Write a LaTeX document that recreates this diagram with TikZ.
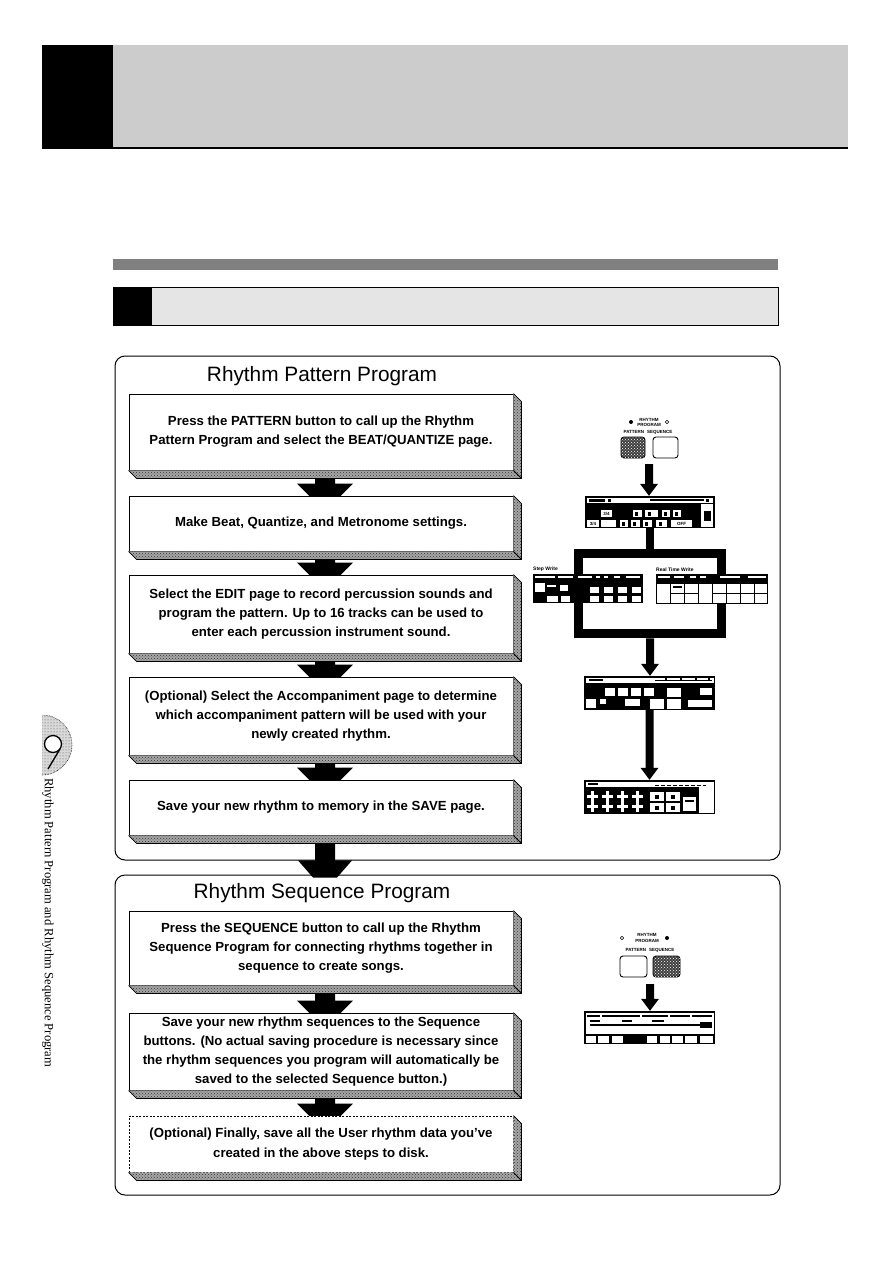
\documentclass[tikz,border=0pt]{standalone}
\usepackage{fontspec}
\setmainfont{Liberation Sans}
\newfontfamily\serifv{Liberation Serif}
\usetikzlibrary{calc,patterns}
\definecolor{hdrgray}{HTML}{CCCCCC}
\definecolor{bargray}{HTML}{808080}
\definecolor{secgray}{HTML}{E5E5E5}
\pgfdeclarelayer{back}\pgfdeclarelayer{bg}\pgfsetlayers{back,bg,main}
\newcommand{\boxshadow}[1]{%
  \fill[black!35] (#1.north east) -- ++(8,8) -- ($(#1.south east)+(8,8)$) -- ($(#1.south west)+(8,8)$) -- (#1.south west) -- (#1.south east) -- cycle;
  \fill[pattern=crosshatch dots, pattern color=black!80] (#1.north east) -- ++(8,8) -- ($(#1.south east)+(8,8)$) -- ($(#1.south west)+(8,8)$) -- (#1.south west) -- (#1.south east) -- cycle;
  \draw[line width=0.8pt] (#1.north east) -- ++(8,8) -- ($(#1.south east)+(8,8)$) -- ($(#1.south west)+(8,8)$) -- (#1.south west);
  \draw[line width=0.8pt] (#1.south east) -- ++(8,8);}
\newcommand{\blockarrow}[2]{%
  \begin{pgfonlayer}{bg}
  \fill let \p1=(#1.south), \p2=(#2.north) in
    (\x1-6pt,\y1-8pt) -- (\x1+14pt,\y1-8pt) -- (\x1+14pt,\y2+12pt) -- (\x1+32pt,\y2+12pt)
    -- (\x1+4pt,\y2-16pt) -- (\x1-24pt,\y2+12pt) -- (\x1-6pt,\y2+12pt) -- cycle;
  \end{pgfonlayer}}
\newcommand{\smallarrow}[2]{%
  \fill let \p1=(#1), \p2=(#2) in
    (\x1-4pt,\y1) -- (\x1+4pt,\y1) -- (\x1+4pt,\y2+12pt) -- (\x1+9pt,\y2+12pt)
    -- (\x1,\y2) -- (\x1-9pt,\y2+12pt) -- (\x1-4pt,\y2+12pt) -- cycle;}
\begin{document}
\begin{tikzpicture}[x=1pt,y=-1pt,
  stepbox/.style={draw, line width=0.9pt, fill=white, minimum width=384pt, inner sep=0pt,
    align=center, font=\bfseries\fontsize{13.2}{19.2}\selectfont},
  group/.style={draw, line width=1pt, rounded corners=10pt, inner sep=0pt},
  grouptitle/.style={inner sep=0pt, font=\fontsize{20.8}{20.8}\selectfont},
  tiny/.style={inner sep=0pt, font=\bfseries\fontsize{4.5}{4.5}\selectfont},
  screen/.style={fill=black, inner sep=0pt},
  btn/.style={draw, line width=0.9pt, rounded corners=3pt, inner sep=0pt, fill=white},
  btndark/.style={btn, fill=black!75, postaction={pattern=crosshatch dots, pattern color=white}},
  cell/.style={fill=white}]
\begin{pgfonlayer}{back}\fill[white] (0,0) rectangle (893,1263);\end{pgfonlayer}
\useasboundingbox (0,0) rectangle (893,1263);

% header
\fill[hdrgray] (113,45) rectangle (848,147);
\fill[black] (42,45) rectangle (113,148);
\draw[line width=2pt] (42,148) -- (848,148);
\fill[bargray] (113,259) rectangle (778,270);
\draw[line width=1pt, fill=secgray] (113,287) rectangle (778,325);
\fill (113,287) rectangle (152,325);

% side tab
\fill[black!15] (42,775) arc[start angle=90, end angle=-90, radius=30] -- cycle;
\fill[pattern=dots, pattern color=black!70] (42,775) arc[start angle=90, end angle=-90, radius=30] -- cycle;
\draw[line width=0.6pt, densely dotted] (42,775) arc[start angle=90, end angle=-90, radius=30];
\draw[line width=1.3pt, fill=white] (53,744) circle (8.5);
\draw[line width=1.3pt] (60,749) -- (48,769);
\node[rotate=-90, anchor=west, inner sep=0pt, font=\serifv\fontsize{12.6}{12.6}\selectfont] (side) at (48,778)
  {Rhythm Pattern Program and Rhythm Sequence Program};

% groups
\node[group, minimum width=665pt, minimum height=504pt] (grpA) at (447.5,608) {};
\node[group, minimum width=665pt, minimum height=320pt] (grpB) at (447.5,1035) {};
\node[grouptitle] (titA) at (322,376) {Rhythm Pattern Program};
\node[grouptitle] (titB) at (322,893) {Rhythm Sequence Program};

% steps
\node[stepbox, minimum height=76pt] (s1) at (321,432) {Press the PATTERN button to call up the Rhythm\\Pattern Program and select the BEAT/QUANTIZE page.};
\node[stepbox, minimum height=55pt] (s2) at (321,523.5) {Make Beat, Quantize, and Metronome settings.};
\node[stepbox, minimum height=78pt] (s3) at (321,614) {Select the EDIT page to record percussion sounds and\\program the pattern. Up to 16 tracks can be used to\\enter each percussion instrument sound.};
\node[stepbox, minimum height=78pt] (s4) at (321,716) {(Optional) Select the Accompaniment page to determine\\which accompaniment pattern will be used with your\\newly created rhythm.};
\node[stepbox, minimum height=55pt] (s5) at (321,807.5) {Save your new rhythm to memory in the SAVE page.};
\node[stepbox, minimum height=74pt] (s6) at (321,948) {Press the SEQUENCE button to call up the Rhythm\\Sequence Program for connecting rhythms together in\\sequence to create songs.};
\node[stepbox, minimum height=77pt] (s7) at (321,1051.5) {Save your new rhythm sequences to the Sequence\\buttons. (No actual saving procedure is necessary since\\the rhythm sequences you program will automatically be\\saved to the selected Sequence button.)};
\node[stepbox, minimum height=56pt, dash pattern=on 2pt off 1.5pt] (s8) at (321,1144) {(Optional) Finally, save all the User rhythm data you've\\created in the above steps to disk.};
\foreach \n in {s1,s2,s3,s4,s5,s6,s7,s8} {\boxshadow{\n}}

\blockarrow{s1}{s2}
\blockarrow{s2}{s3}
\blockarrow{s3}{s4}
\blockarrow{s4}{s5}
\blockarrow{s6}{s7}
\blockarrow{s7}{s8}
\fill let \p1=(s5.south), \p2=(grpB.north) in
  (\x1-6pt,\y1-8pt) -- (\x1+14pt,\y1-8pt) -- (\x1+14pt,\y1-25pt) -- (\x1+31pt,\y1-25pt)
  -- (\x1+16pt,\y2-3pt) -- (\x1-8pt,\y2-3pt) -- (\x1-23pt,\y1-25pt) -- (\x1-6pt,\y1-25pt) -- cycle;

% ---------- right side, pattern program ----------
\fill (631,422) circle (2);
\draw[line width=0.6pt] (667,422) circle (1.8);
\node[tiny] (rpA) at (649,419.5) {RHYTHM};
\node[tiny] (pgA) at (649,425) {PROGRAM};
\node[tiny] (psA) at (648,432.5) {PATTERN\hspace{3pt}SEQUENCE};
\node[btndark, minimum width=24pt, minimum height=21pt] (patA) at (633,447.5) {};
\node[btn, minimum width=25pt, minimum height=21pt] (seqA) at (665.5,447.5) {};
\coordinate (a1top) at (649,464);

\node[screen, minimum width=130pt, minimum height=32pt] (scr1) at (650,512) {};
\smallarrow{a1top}{scr1.north}
\fill[white] (587,498) rectangle (713,503);
\fill (589,499) rectangle (605,501.5);
\fill (608,499) rectangle (611,502);
\draw[line width=1.6pt] (650,500.2) -- (704,500.2);
\fill (706,498.5) rectangle (709,502);
\fill[white] (701,504) rectangle (713,526.5);
\fill (703.5,511) rectangle (711,521);
\foreach \a/\b in {601/612,633/642,645/658,662/670,673/681} {\fill[white] (\a,510) rectangle (\b,517);}
\foreach \a/\b in {587/599,601/616,620/628,631/640,643/652,656/667,671/692} {\fill[white] (\a,520) rectangle (\b,527);}
\node[inner sep=0pt, font=\bfseries\fontsize{4.5}{4.5}\selectfont] (b34) at (606.5,513.5) {3/4};
\node[inner sep=0pt, font=\bfseries\fontsize{4.5}{4.5}\selectfont] (c34) at (593,523.5) {3/4};
\node[inner sep=0pt, font=\bfseries\fontsize{4.5}{4.5}\selectfont] (off) at (681.5,523.5) {OFF};
\foreach \a in {622,633,645,659} {\fill (\a,521.5) rectangle ++(3,4);}
\foreach \a in {635,648,664,675} {\fill (\a,512) rectangle ++(3,4);}

\node[draw, line width=9pt, minimum width=143pt, minimum height=80.5pt, inner sep=0pt] (frame) at (650,593.5) {};
\draw[line width=8pt] (scr1.south) -- (frame.north);

% step write screen
\node[anchor=west, inner sep=0pt, font=\bfseries\fontsize{5}{5}\selectfont] (swt) at (533,569.5) {Step Write};
\node[screen, minimum width=110pt, minimum height=29pt] (stepscr) at (588,588.5) {};
\foreach \a/\b in {535/555,558/573,578/592,596/600,604/608,614/620,626/640} {\fill[white] (\a,576) rectangle (\b,578);}
\fill[white] (535,583) rectangle (545,592);
\fill[white] (547,585) rectangle (556,587);
\fill[white] (560,585) rectangle (568,591);
\foreach \a in {590,604,618,632} {\fill[white] (\a,587) rectangle ++(9,6); \fill[white] (\a,596) rectangle ++(9,5.5);}
\fill[white] (547,596) rectangle (558,601.5);
\fill[white] (561,596) rectangle (570,601.5);
% real time write screen
\node[anchor=west, inner sep=0pt, font=\bfseries\fontsize{5}{5}\selectfont] (rtw) at (656,569.5) {Real Time Write};
\node[screen, minimum width=112pt, minimum height=9pt] (rtscr) at (712,578.5) {};
\foreach \a/\b in {658/670,674/684,690/696,700/706,720/740,748/766} {\fill[white] (\a,576) rectangle (\b,578);}
\draw[line width=1pt, fill=white] (656.5,583) rectangle (767.5,603);
\foreach \x in {670,684,698,712,726,740,754} {\draw[line width=1pt] (\x,583) -- (\x,603);}
\draw[line width=1pt] (670,593.5) -- (698,593.5);
\draw[line width=1pt] (712,593.5) -- (767.5,593.5);
\fill (673,586) rectangle (682,588);

% accompaniment screen
\node[screen, minimum width=131pt, minimum height=34pt] (scr3) at (649.5,693) {};
\smallarrow{frame.south}{scr3.north}
\fill[white] (585.5,677.5) rectangle (713.5,683);
\fill (589,679) rectangle (603,681);
\draw[line width=1pt] (655,680) -- (712,680);
\foreach \a in {665,680,695,708} {\fill (\a,678) rectangle ++(1.5,3);}
\foreach \a/\b in {605/615,618/628,631/641,644/654} {\fill[white] (\a,688) rectangle (\b,696);}
\fill[white] (667,688) rectangle (681,697);
\fill[white] (700,688) rectangle (712,695);
\fill[white] (586,699) rectangle (596,708);
\fill[white] (600,699) rectangle (606,704);
\fill[white] (625,699) rectangle (640,706);
\fill[white] (650,699) rectangle (664,708.5);
\fill[white] (667,699) rectangle (681,708.5);
\fill[white] (688,700) rectangle (712,707);

% save screen
\node[screen, minimum width=131pt, minimum height=34pt] (scr4) at (649.5,797) {};
\smallarrow{scr3.south}{scr4.north}
\fill[white] (585.5,781.5) rectangle (713.5,787);
\fill (588,783) rectangle (598,785);
\draw[line width=1pt, dash pattern=on 4pt off 2pt] (655,785) -- (706,785);
\fill[white] (699,787) rectangle (713.5,812.5);
\foreach \a in {586,601,616,631} {
  \fill[white] (\a+5,791) rectangle ++(3,21);
  \fill[white] (\a+1,795) rectangle ++(11,3);
  \fill[white] (\a+1,805) rectangle ++(11,3);}
\foreach \a in {650,666} {\fill[white] (\a,792) rectangle ++(14,9); \fill[white] (\a,803) rectangle ++(14,9);
  \fill (\a+5,794.5) rectangle ++(4,4); \fill (\a+5,805.5) rectangle ++(4,4);}
\fill[white] (683,797) rectangle (696,811);
\fill (685,800) rectangle (694,801.5);

% ---------- right side, sequence program ----------
\draw[line width=0.6pt] (622,938) circle (1.8);
\fill (667,938) circle (2);
\node[tiny] (rpB) at (647,935) {RHYTHM};
\node[tiny] (pgB) at (647,941) {PROGRAM};
\node[tiny] (psB) at (650,950.5) {PATTERN\hspace{3pt}SEQUENCE};
\node[btn, minimum width=27pt, minimum height=21pt] (patB) at (633.5,966.5) {};
\node[btndark, minimum width=27pt, minimum height=21pt] (seqB) at (666.5,966.5) {};
\coordinate (a2top) at (650,984);
\node[screen, minimum width=131pt, minimum height=33pt] (scr5) at (649.5,1027.5) {};
\smallarrow{a2top}{scr5.north}
\fill[white] (585.5,1012.5) rectangle (713.5,1034);
\draw[line width=1.5pt] (587,1016) -- (712,1016);
\foreach \a in {600,640,668,690} {\fill[white] (\a,1015) rectangle ++(2,2);}
\draw[line width=1.2pt] (590,1025) -- (700,1025);
\fill (700,1022) rectangle (712,1028);
\fill (590,1020) rectangle (600,1022);
\fill (622,1020) rectangle (632,1022);
\fill (652,1020) rectangle (664,1022);
\foreach \a/\b in {586/596,598/609,612/623,647/657,660/670,672/683,685/697,700/713} {\fill[white] (\a,1036) rectangle (\b,1043);}
\end{tikzpicture}
\end{document}
